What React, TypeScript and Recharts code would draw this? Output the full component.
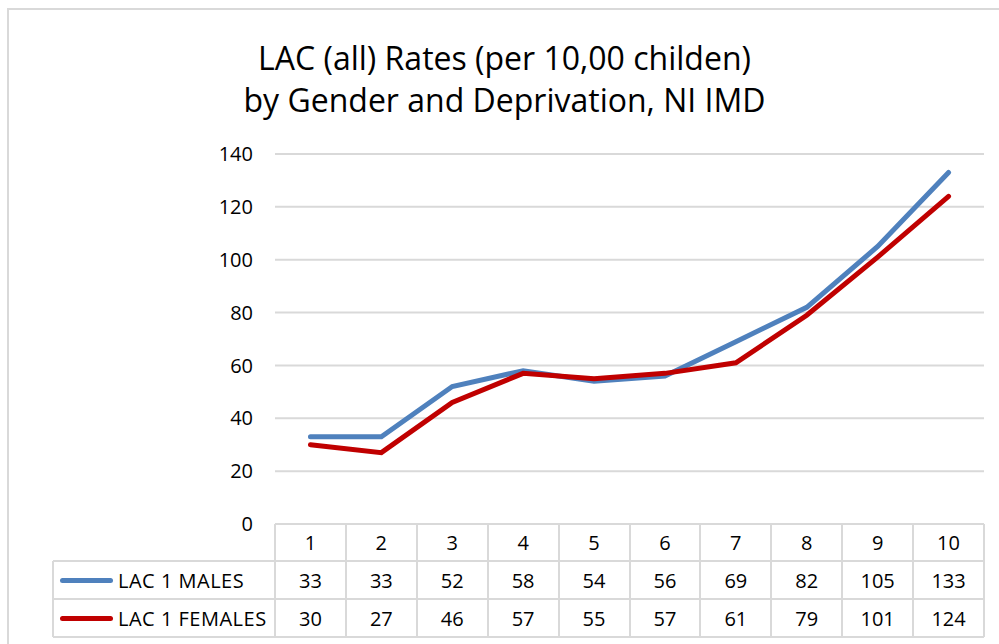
import React from "react";
import { LineChart, Line, XAxis, YAxis, CartesianGrid } from "recharts";

// deprivation deciles
const deciles = ["1", "2", "3", "4", "5", "6", "7", "8", "9", "10"];
const males = [33, 33, 52, 58, 54, 56, 69, 82, 105, 133];
const females = [30, 27, 46, 57, 55, 57, 61, 79, 101, 124];
const yTicks = [0, 20, 40, 60, 80, 100, 120, 140];

const seriesRows = [
  { name: "LAC 1 MALES", color: "#4f81bd", values: males },
  { name: "LAC 1 FEMALES", color: "#c00000", values: females },
];

const data = deciles.map((d, i) => ({ decile: d, males: males[i], females: females[i] }));

const FONT = "'Open Sans', Lato, sans-serif";
const GRID = "#d9d9d9";

// table geometry (matches plot area)
const PLOT_LEFT = 275;
const PLOT_RIGHT = 984;
const COL_W = (PLOT_RIGHT - PLOT_LEFT) / deciles.length;
const ROW_TOPS = [524, 561, 599, 637];
const LABEL_LEFT = 53;

function DataTable() {
  const cells: React.ReactNode[] = [];
  const txt = {
    position: "absolute" as const,
    fontSize: 20,
    color: "#000",
    display: "flex",
    alignItems: "center",
    justifyContent: "center",
    boxSizing: "border-box" as const,
    whiteSpace: "nowrap" as const,
  };
  deciles.forEach((d, i) => {
    cells.push(
      <div key={"h" + i} style={{ ...txt, left: PLOT_LEFT + i * COL_W, top: ROW_TOPS[0], width: COL_W, height: ROW_TOPS[1] - ROW_TOPS[0] }}>
        {d}
      </div>
    );
  });
  seriesRows.forEach((s, r) => {
    const top = ROW_TOPS[r + 1];
    const h = ROW_TOPS[r + 2] - top;
    cells.push(
      <div key={"l" + r} style={{ ...txt, left: LABEL_LEFT, top, width: PLOT_LEFT - LABEL_LEFT, height: h, justifyContent: "flex-start", letterSpacing: 0.5 }}>
        <span style={{ display: "inline-block", width: 53, height: 5, borderRadius: 3, background: s.color, marginLeft: 7, marginRight: 5 }} />
        {s.name}
      </div>
    );
    s.values.forEach((v, i) => {
      cells.push(
        <div key={"c" + r + "-" + i} style={{ ...txt, left: PLOT_LEFT + i * COL_W, top, width: COL_W, height: h }}>
          {v}
        </div>
      );
    });
  });

  // borders
  const lines: React.ReactNode[] = [];
  const lineStyle = { position: "absolute" as const, background: GRID };
  lines.push(<div key="hb0" style={{ ...lineStyle, left: PLOT_LEFT, top: ROW_TOPS[0] - 1, width: PLOT_RIGHT - PLOT_LEFT, height: 2 }} />);
  [1, 2, 3].forEach((k) => {
    lines.push(<div key={"hb" + k} style={{ ...lineStyle, left: LABEL_LEFT, top: ROW_TOPS[k] - 1, width: PLOT_RIGHT - LABEL_LEFT, height: 2 }} />);
  });
  lines.push(<div key="vl" style={{ ...lineStyle, left: LABEL_LEFT - 1, top: ROW_TOPS[1], width: 2, height: ROW_TOPS[3] - ROW_TOPS[1] }} />);
  for (let i = 0; i <= deciles.length; i++) {
    lines.push(
      <div key={"vb" + i} style={{ ...lineStyle, left: PLOT_LEFT + i * COL_W - 1, top: ROW_TOPS[0], width: 2, height: ROW_TOPS[3] - ROW_TOPS[0] }} />
    );
  }
  return (
    <>
      {lines}
      {cells}
    </>
  );
}

export default function App() {
  return (
    <div style={{ position: "absolute", left: 0, top: 0, width: 999, height: 644, background: "#fff", fontFamily: FONT, overflow: "hidden" }}>
      <div style={{ position: "absolute", left: 7, top: 8, width: 1010, height: 700, border: `2px solid ${GRID}`, boxSizing: "border-box" }} />
      <div style={{ position: "absolute", left: 0, width: 1009, top: 37, textAlign: "center", fontSize: 32, lineHeight: "42px", color: "#000" }}>
        LAC (all) Rates (per 10,00 childen)
        <br />
        by Gender and Deprivation, NI IMD
      </div>
      <div style={{ position: "absolute", left: 0, top: 0 }}>
        <LineChart width={999} height={644} data={data} margin={{ top: 154, right: 15, bottom: 120, left: 215 }}>
          <CartesianGrid vertical={false} stroke={GRID} strokeWidth={2} />
          <XAxis dataKey="decile" hide padding={{ left: COL_W / 2, right: COL_W / 2 }} />
          <YAxis
            width={60}
            domain={[0, 140]}
            ticks={yTicks}
            axisLine={false}
            tickLine={false}
            tickSize={0}
            tickMargin={22}
            tick={{ fill: "#000", fontSize: 20, fontFamily: FONT }}
          />
          <Line type="linear" dataKey="males" stroke="#4f81bd" strokeWidth={5} strokeLinecap="round" dot={false} isAnimationActive={false} />
          <Line type="linear" dataKey="females" stroke="#c00000" strokeWidth={5} strokeLinecap="round" dot={false} isAnimationActive={false} />
        </LineChart>
      </div>
      <DataTable />
    </div>
  );
}
